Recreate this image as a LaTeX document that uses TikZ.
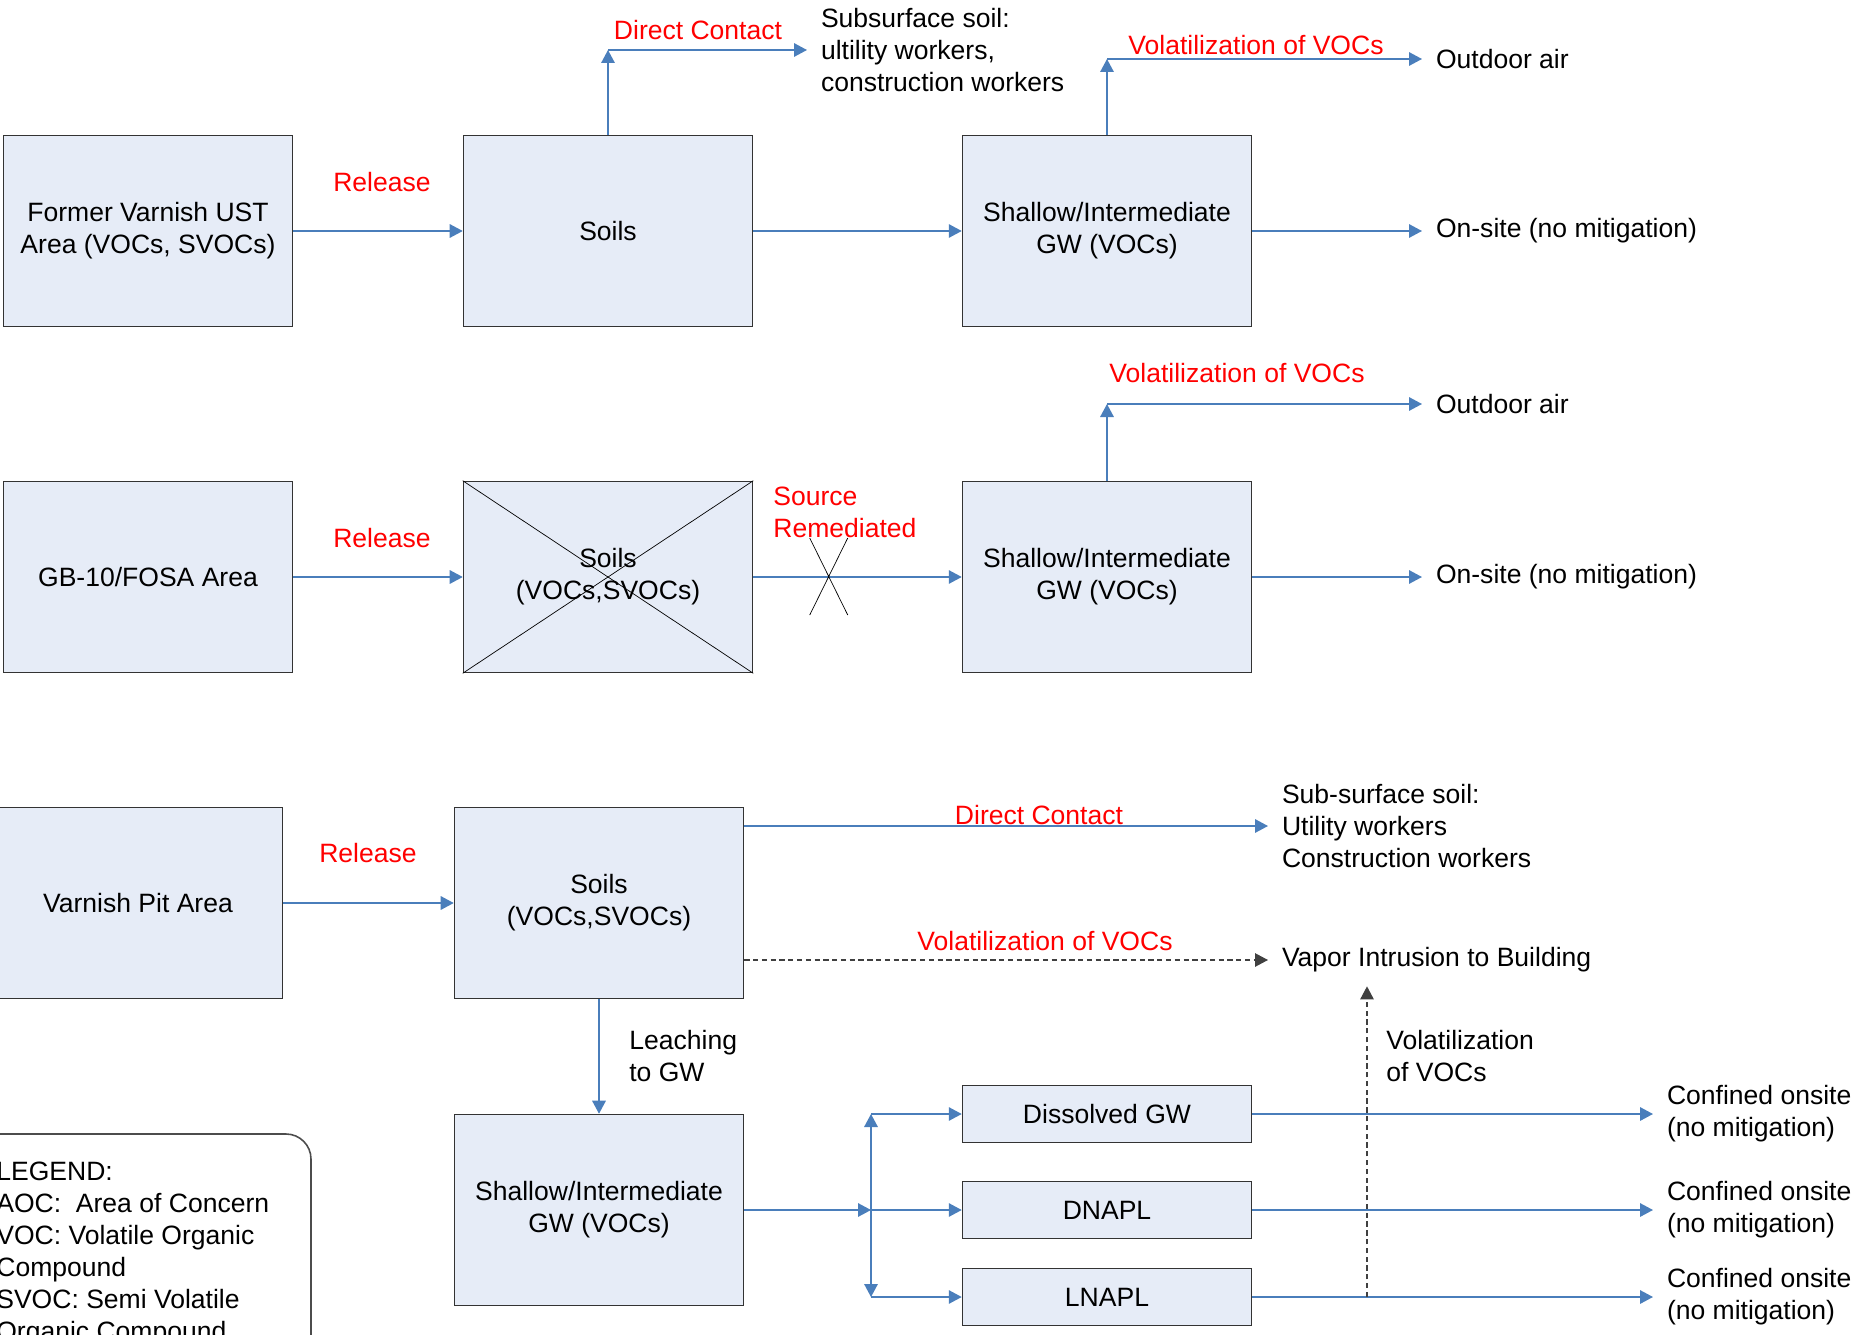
\documentclass[tikz,border=0pt]{standalone}
\usepackage{fontspec}
\setmainfont{Liberation Sans}
\usepackage{tikz}
\usetikzlibrary{arrows.meta, calc}

\definecolor{boxfill}{RGB}{230,236,247}
\definecolor{flowblue}{RGB}{74,126,187}
\definecolor{vaporgray}{RGB}{64,64,64}

\begin{document}
\begin{tikzpicture}[x=0.02cm, y=-0.02cm,
        font=\fontsize{15.1}{18.2}\selectfont,
        areabox/.style={draw=black!80, line width=0.9pt, fill=boxfill, align=center, minimum width=5.78cm, minimum height=3.82cm},
        thinbox/.style={areabox, minimum height=1.14cm},
        flow/.style={flowblue, line width=0.9pt, -{Triangle[length=0.26cm, width=0.27cm]}},
        vapor/.style={vaporgray, line width=0.7pt, dash pattern=on 3pt off 2pt, -{Triangle[length=0.26cm, width=0.27cm]}},
        route/.style={red},
        target/.style={anchor=west, align=left, inner sep=0pt, outer sep=0.28cm}]
        \path[use as bounding box] (0,0) rectangle (1853,1335);
        \clip (0,0) rectangle (1853,1335);

        % first area
        \node[areabox] (ust) at (148,231) {Former Varnish UST\\Area (VOCs, SVOCs)};
        \node[areabox] (soil1) at (608,231) {Soils};
        \node[areabox] (gw1) at (1107,231) {Shallow/Intermediate\\GW (VOCs)};
        \node[target] (sub1) at (807,50) {Subsurface soil:\\ultility workers,\\construction workers};
        \node[target] (air1) at (1422,59) {Outdoor air};
        \node[target] (site1) at (1422,231) {On-site (no mitigation)};

        \draw[flow] (ust.east) -- (soil1.west);
        \draw[flow] (soil1.east) -- (gw1.west);
        \draw[flow] (gw1.east) -- (site1.west);
        \draw[flow] (soil1.north) -- (soil1.north |- sub1.west);
        \draw[flow] (soil1.north |- sub1.west) -- (sub1.west);
        \draw[flow] (gw1.north) -- (gw1.north |- air1.west);
        \draw[flow] (gw1.north |- air1.west) -- (air1.west);

        \node[route] (rel1) at (382,182) {Release};
        \node[route] (dc1) at (698,30) {Direct Contact};
        \node[route] (vol1) at (1256,45) {Volatilization of VOCs};

        % second area
        \node[areabox] (fosa) at (148,577) {GB-10/FOSA Area};
        \node[areabox] (soil2) at (608,577) {Soils\\(VOCs,SVOCs)};
        \node[areabox] (gw2) at (1107,577) {Shallow/Intermediate\\GW (VOCs)};
        \node[target] (air2) at (1422,404) {Outdoor air};
        \node[target] (site2) at (1422,577) {On-site (no mitigation)};

        \draw (soil2.north west) -- (soil2.south east) (soil2.south west) -- (soil2.north east);
        \draw[flow] (fosa.east) -- (soil2.west);
        \draw[flow] (soil2.east) -- coordinate[pos=0.362] (cut) (gw2.west);
        \draw ($(cut)+(-19,-39)$) -- ($(cut)+(19,38)$) ($(cut)+(19,-39)$) -- ($(cut)+(-19,38)$);
        \draw[flow] (gw2.east) -- (site2.west);
        \draw[flow] (gw2.north) -- (gw2.north |- air2.west);
        \draw[flow] (gw2.north |- air2.west) -- (air2.west);

        \node[route] (rel2) at (382,538) {Release};
        \node[route, anchor=west, align=left, inner sep=0pt] (rem) at (773,512) {Source\\Remediated};
        \node[route] (vol2) at (1237,373) {Volatilization of VOCs};

        % third area
        \node[areabox] (pit) at (138,903) {Varnish Pit Area};
        \node[areabox] (soil3) at (599,903) {Soils\\(VOCs,SVOCs)};
        \node[areabox] (gw3) at (599,1210) {Shallow/Intermediate\\GW (VOCs)};
        \node[target] (sub3) at (1268,826) {Sub-surface soil:\\Utility workers\\Construction workers};
        \node[target] (vi) at (1268,960) {Vapor Intrusion to Building};

        \draw[flow] (pit.east) -- (soil3.west);
        \draw[flow] (soil3.east |- sub3.west) -- (sub3.west);
        \draw[vapor] (soil3.east |- vi.west) -- (vi.west);
        \draw[flow] (soil3.south) -- (gw3.north);

        \node[route] (rel3) at (368,853) {Release};
        \node[route] (dc3) at (1039,815) {Direct Contact};
        \node[route] (vol3) at (1045,941) {Volatilization of VOCs};
        \node[anchor=west, align=left, inner sep=0pt] (leach) at (629,1056) {Leaching\\to GW};
        \node[anchor=west, align=left, inner sep=0pt] (volgw) at (1386,1056) {Volatilization\\of VOCs};

        \foreach \name/\txt/\y in {dis/Dissolved GW/1114, dnapl/DNAPL/1210, lnapl/LNAPL/1297} {
            \node[thinbox] (\name) at (1107,\y) {\txt};
            \node[target] (out\name) at (1653,\y) {Confined onsite\\(no mitigation)};
            \draw[flow] (\name.east) -- (out\name.west);
        }

        \coordinate (split) at (871,1210);
        \draw[flow] (gw3.east) -- (split);
        \draw[flow] (split) -- (split |- dis.west);
        \draw[flow] (split) -- (split |- lnapl.west);
        \draw[flow] (split |- dis.west) -- (dis.west);
        \draw[flow] (split) -- (dnapl.west);
        \draw[flow] (split |- lnapl.west) -- (lnapl.west);

        \coordinate (rise) at (1367,1297);
        \draw[vapor] (rise) -- (rise |- vi.south);

        % legend
        \draw[black!70, line width=0.9pt, rounded corners=0.5cm] (-60,1134) rectangle (311,1420);
        \node[anchor=north west, align=left, inner sep=0pt] (legend) at (-4,1162) {LEGEND:\\AOC: \ Area of Concern\\VOC: Volatile Organic\\Compound\\SVOC: Semi Volatile\\Organic Compound};
    \end{tikzpicture}
\end{document}
